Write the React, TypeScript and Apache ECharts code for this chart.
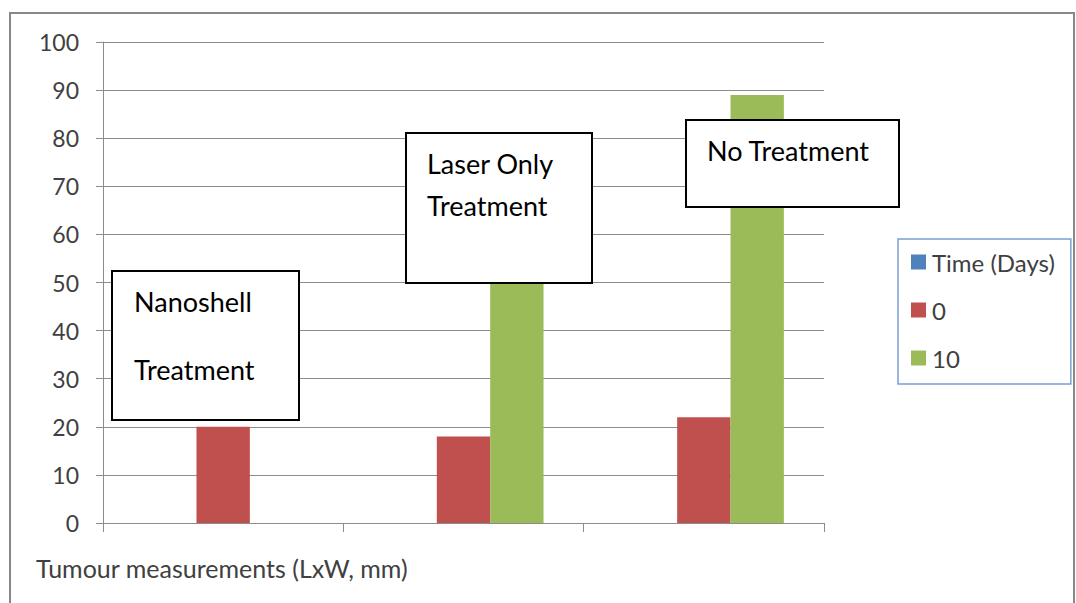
import React, { useEffect, useRef } from "react";
import * as echarts from "echarts";

const categories = ["Nanoshell Treatment", "Laser Only Treatment", "No Treatment"];
const seriesNames = ["Time (Days)", "0", "10"];
const timeDays = [0, 0, 0];
const day0 = [20, 18, 22];
const day10 = [0, 55, 89];
const yTicks = [0, 10, 20, 30, 40, 50, 60, 70, 80, 90, 100];
const xTitle = "Tumour measurements (LxW, mm)";

const FONT = "Lato";

export default function App() {
  const ref = useRef<HTMLDivElement>(null);
  useEffect(() => {
    const chart = echarts.init(ref.current!, null, { renderer: "svg" });
    const boxText = (x: number, y: number, t: string) => ({
      type: "text",
      x,
      y,
      style: { text: t, fill: "#000", font: `27px ${FONT}`, textVerticalAlign: "middle" },
      z: 101,
    });
    chart.setOption({
      animation: false,
      backgroundColor: "#fff",
      grid: { left: 103, right: 252, top: 42, bottom: 80 },
      xAxis: {
        type: "category",
        data: categories,
        axisLine: { lineStyle: { color: "#8c8c8c", width: 1 } },
        axisTick: { show: true, length: 9, lineStyle: { color: "#8c8c8c" } },
        axisLabel: { show: false },
      },
      yAxis: {
        type: "value",
        min: yTicks[0],
        max: yTicks[yTicks.length - 1],
        interval: 10,
        axisLine: { show: true, lineStyle: { color: "#8c8c8c" } },
        axisTick: { show: true, length: 7, lineStyle: { color: "#8c8c8c" } },
        splitLine: { lineStyle: { color: "#8c8c8c", width: 1 } },
        axisLabel: { color: "#404040", fontSize: 23, fontFamily: FONT, margin: 24 },
      },
      legend: {
        orient: "vertical",
        left: 898,
        top: 239,
        padding: [11, 16, 14, 13],
        itemGap: 24,
        itemWidth: 15,
        itemHeight: 15,
        icon: "rect",
        borderColor: "#7a9fd2",
        borderWidth: 1.5,
        textStyle: { color: "#404040", fontSize: 24, lineHeight: 24, fontFamily: FONT, padding: [0, 0, 0, 1] },
        data: seriesNames,
      },
      series: [
        { name: seriesNames[0], type: "bar", data: timeDays, itemStyle: { color: "#4F81BD" }, barGap: "0%", barCategoryGap: "33.4%" },
        { name: seriesNames[1], type: "bar", data: day0, itemStyle: { color: "#C0504D" }, barGap: "0%", barCategoryGap: "33.4%" },
        { name: seriesNames[2], type: "bar", data: day10, itemStyle: { color: "#9BBB59" }, barGap: "0%", barCategoryGap: "33.4%" },
      ],
      graphic: [
        { type: "rect", shape: { x: 10, y: 13, width: 1064, height: 600 }, style: { fill: "none", stroke: "#888", lineWidth: 2 }, z: 100 },
        { type: "rect", shape: { x: 112, y: 271, width: 187, height: 149 }, style: { fill: "#fff", stroke: "#000", lineWidth: 2 }, z: 100 },
        boxText(134, 301, "Nanoshell"),
        boxText(134, 369, "Treatment"),
        { type: "rect", shape: { x: 406, y: 133, width: 186, height: 150 }, style: { fill: "#fff", stroke: "#000", lineWidth: 2 }, z: 100 },
        boxText(427, 163, "Laser Only"),
        boxText(427, 205, "Treatment"),
        { type: "rect", shape: { x: 686, y: 120, width: 213, height: 87 }, style: { fill: "#fff", stroke: "#000", lineWidth: 2 }, z: 100 },
        boxText(707, 150, "No Treatment"),
        { type: "text", x: 36, y: 568, style: { text: xTitle, fill: "#404040", font: `25px ${FONT}`, textVerticalAlign: "middle" }, z: 101 },
      ],
    });
    return () => chart.dispose();
  }, []);
  return <div ref={ref} style={{ position: "fixed", left: 0, top: 0, width: 1076, height: 603 }} />;
}
